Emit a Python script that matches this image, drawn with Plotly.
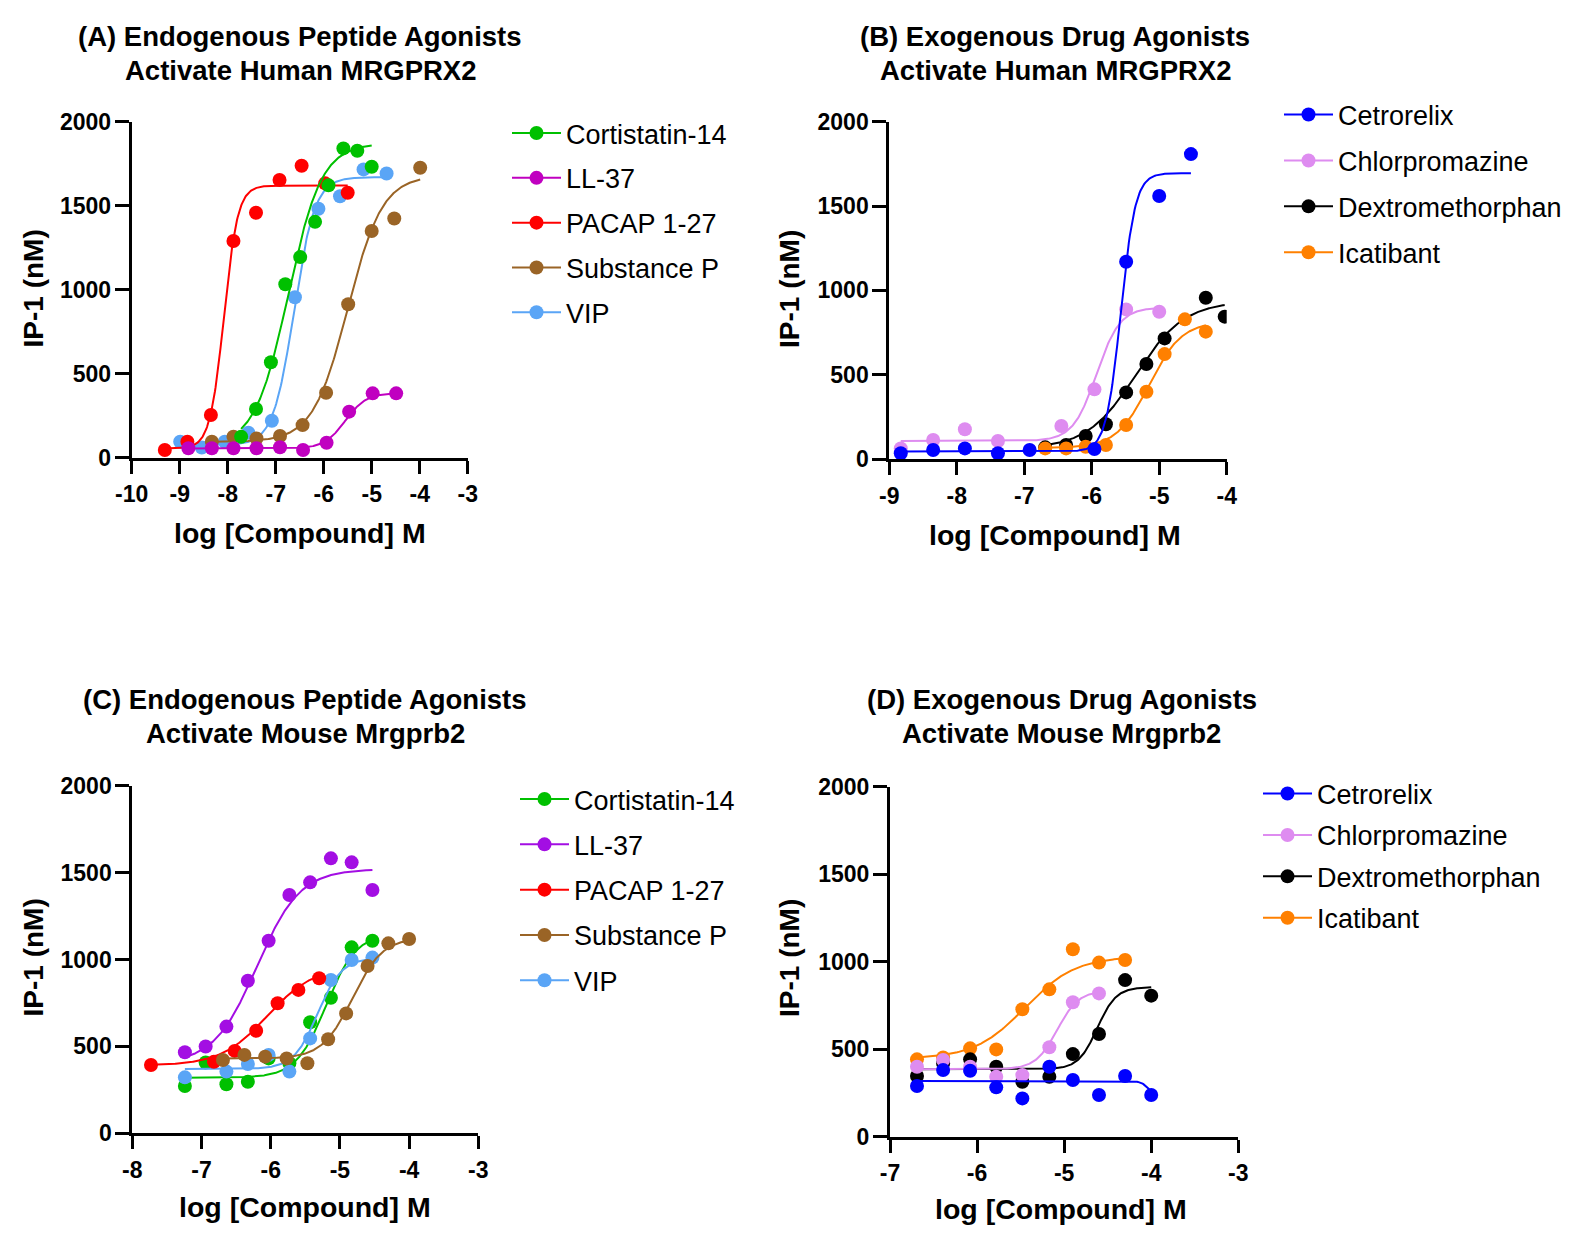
import numpy as np
import plotly.graph_objects as go

FONT = "Liberation Sans, Arial, Helvetica, sans-serif"
W, H = 1572, 1241

# ---------------- data (log M, IP-1 nM) ----------------
# Panel A: human MRGPRX2, endogenous peptides
a_cort_x = [-7.72, -7.41, -7.10, -6.80, -6.49, -6.18, -5.90, -5.59, -5.30, -5.00]
a_cort_y = [125, 290, 568, 1032, 1194, 1404, 1621, 1841, 1827, 1732]
a_ll37_x = [-8.82, -8.33, -7.88, -7.40, -6.91, -6.43, -5.94, -5.47, -4.98, -4.49]
a_ll37_y = [56, 56, 56, 56, 62, 46, 89, 274, 383, 383]
a_pacap_x = [-9.31, -8.84, -8.35, -7.88, -7.41, -6.92, -6.46, -5.97, -5.50]
a_pacap_y = [46, 95, 254, 1290, 1458, 1653, 1738, 1633, 1577]
a_subp_x = [-8.33, -7.88, -7.40, -6.91, -6.44, -5.95, -5.49, -5.00, -4.53, -3.99]
a_subp_y = [95, 125, 115, 129, 194, 387, 913, 1349, 1424, 1726]
a_vip_x = [-8.99, -8.54, -8.06, -7.57, -7.08, -6.60, -6.11, -5.66, -5.17, -4.69]
a_vip_y = [95, 60, 95, 149, 220, 955, 1482, 1556, 1716, 1692]

# Panel B: human MRGPRX2, drugs
b_cet_x = [-8.83, -8.35, -7.88, -7.39, -6.92, -5.96, -5.49, -5.00, -4.53]
b_cet_y = [34, 53, 63, 34, 53, 59, 1170, 1559, 1808]
b_chl_x = [-8.83, -8.35, -7.88, -7.39, -6.45, -5.96, -5.49, -5.00]
b_chl_y = [63, 113, 176, 107, 196, 413, 887, 873]
b_dex_x = [-6.69, -6.38, -6.09, -5.79, -5.49, -5.19, -4.92, -4.31, -4.03]
b_dex_y = [69, 83, 136, 206, 395, 563, 715, 956, 844]
b_ica_x = [-6.69, -6.38, -6.09, -5.79, -5.49, -5.19, -4.92, -4.62, -4.31]
b_ica_y = [63, 63, 73, 83, 202, 399, 622, 828, 755]

# Panel C: mouse Mrgprb2, endogenous peptides
c_cort_x = [-7.24, -6.94, -6.64, -6.33, -6.03, -5.73, -5.43, -5.13, -4.83, -4.53]
c_cort_y = [272, 407, 282, 297, 431, 403, 639, 780, 1070, 1108]
c_ll37_x = [-7.24, -6.94, -6.64, -6.33, -6.03, -5.73, -5.43, -5.13, -4.83, -4.53]
c_ll37_y = [466, 499, 614, 878, 1108, 1371, 1444, 1582, 1559, 1400]
c_pacap_x = [-7.73, -6.82, -6.52, -6.21, -5.90, -5.60, -5.30]
c_pacap_y = [393, 412, 474, 590, 748, 825, 892]
c_subp_x = [-6.69, -6.38, -6.08, -5.77, -5.47, -5.17, -4.91, -4.60, -4.30, -4.00]
c_subp_y = [422, 451, 441, 431, 403, 541, 690, 963, 1093, 1118]
c_vip_x = [-7.24, -6.64, -6.33, -6.03, -5.73, -5.43, -5.13, -4.83, -4.53]
c_vip_y = [322, 355, 399, 451, 355, 546, 882, 997, 1011]

# Panel D: mouse Mrgprb2, drugs
d_cet_x = [-6.69, -6.39, -6.08, -5.78, -5.48, -5.17, -4.90, -4.60, -4.30, -4.00]
d_cet_y = [290, 381, 377, 282, 219, 400, 324, 238, 347, 238]
d_chl_x = [-6.69, -6.39, -6.08, -5.78, -5.48, -5.17, -4.90, -4.60]
d_chl_y = [400, 438, 400, 343, 352, 511, 768, 819]
d_dex_x = [-6.69, -6.39, -6.08, -5.78, -5.48, -5.17, -4.90, -4.60, -4.30, -4.00]
d_dex_y = [347, 419, 442, 400, 314, 343, 472, 587, 895, 806]
d_ica_x = [-6.69, -6.39, -6.08, -5.78, -5.48, -5.17, -4.90, -4.60, -4.30]
d_ica_y = [442, 453, 505, 499, 728, 842, 1071, 995, 1010]

# Fitted 4-parameter logistic curves: [bottom, top, logEC50, hill]
a_cort_fit = [70, 1870, -6.74, 1.25]
a_ll37_fit = [55, 385, -5.55, 2.0]
a_pacap_fit = [55, 1620, -8.08, 3.0]
a_subp_fit = [95, 1680, -5.50, 1.2]
a_vip_fit = [75, 1670, -6.62, 2.0]
b_cet_fit = [45, 1695, -5.57, 4.0]
b_chl_fit = [107, 899, -5.93, 2.5]
b_dex_fit = [60, 935, -5.35, 1.2]
b_ica_fit = [65, 815, -5.15, 1.8]
c_cort_fit = [320, 1150, -5.20, 2.0]
c_ll37_fit = [400, 1520, -6.20, 1.4]
c_pacap_fit = [390, 960, -6.05, 1.3]
c_subp_fit = [430, 1125, -4.82, 2.0]
c_vip_fit = [370, 1010, -5.32, 2.5]
d_cet_fit = [318, 230, -4.03, 10.0]
d_chl_fit = [385, 835, -5.08, 3.5]
d_dex_fit = [385, 855, -4.62, 4.0]
d_ica_fit = [445, 1030, -5.45, 1.5]

y_tickvals = [0, 500, 1000, 1500, 2000]
y_ticktext = ["0", "500", "1000", "1500", "2000"]
xa_tickvals = [-10, -9, -8, -7, -6, -5, -4, -3]
xb_tickvals = [-9, -8, -7, -6, -5, -4]
xc_tickvals = [-8, -7, -6, -5, -4, -3]
xd_tickvals = [-7, -6, -5, -4, -3]

title_lines = [
    ("(A) Endogenous Peptide Agonists", "Activate Human MRGPRX2"),
    ("(B) Exogenous Drug Agonists", "Activate Human MRGPRX2"),
    ("(C) Endogenous Peptide Agonists", "Activate Mouse Mrgprb2"),
    ("(D) Exogenous Drug Agonists", "Activate Mouse Mrgprb2"),
]
x_title = "log [Compound] M"
y_title = "IP-1 (nM)"

# ---------------- styles ----------------
GREEN = "#00c000"
MAGENTA = "#c000c0"
RED = "#ff0000"
BROWN = "#9a6426"
LBLUE = "#5aa5f6"
PURPLE = "#a30ee3"
BLUE = "#0000ff"
LILAC = "#de8cf0"
BLACK = "#000000"
ORANGE = "#ff8000"


def logistic(x, p):
    bottom, top, logec50, hill = p
    return bottom + (top - bottom) / (1.0 + 10.0 ** ((logec50 - x) * hill))


# (name, x, y, fit, color, legend rank) listed in drawing order (last on top)
panels = [
    dict(key="1", legend="legend", series=[
        ("VIP", a_vip_x, a_vip_y, a_vip_fit, LBLUE, 5),
        ("Substance P", a_subp_x, a_subp_y, a_subp_fit, BROWN, 4),
        ("PACAP 1-27", a_pacap_x, a_pacap_y, a_pacap_fit, RED, 3),
        ("Cortistatin-14", a_cort_x, a_cort_y, a_cort_fit, GREEN, 1),
        ("LL-37", a_ll37_x, a_ll37_y, a_ll37_fit, MAGENTA, 2),
    ]),
    dict(key="2", legend="legend2", series=[
        ("Chlorpromazine", b_chl_x, b_chl_y, b_chl_fit, LILAC, 2),
        ("Dextromethorphan", b_dex_x, b_dex_y, b_dex_fit, BLACK, 3),
        ("Icatibant", b_ica_x, b_ica_y, b_ica_fit, ORANGE, 4),
        ("Cetrorelix", b_cet_x, b_cet_y, b_cet_fit, BLUE, 1),
    ]),
    dict(key="3", legend="legend3", series=[
        ("Cortistatin-14", c_cort_x, c_cort_y, c_cort_fit, GREEN, 1),
        ("VIP", c_vip_x, c_vip_y, c_vip_fit, LBLUE, 5),
        ("PACAP 1-27", c_pacap_x, c_pacap_y, c_pacap_fit, RED, 3),
        ("LL-37", c_ll37_x, c_ll37_y, c_ll37_fit, PURPLE, 2),
        ("Substance P", c_subp_x, c_subp_y, c_subp_fit, BROWN, 4),
    ]),
    dict(key="4", legend="legend4", series=[
        ("Icatibant", d_ica_x, d_ica_y, d_ica_fit, ORANGE, 4),
        ("Dextromethorphan", d_dex_x, d_dex_y, d_dex_fit, BLACK, 3),
        ("Chlorpromazine", d_chl_x, d_chl_y, d_chl_fit, LILAC, 2),
        ("Cetrorelix", d_cet_x, d_cet_y, d_cet_fit, BLUE, 1),
    ]),
]

fig = go.Figure()
for pan in panels:
    k = pan["key"]
    xa = "x" if k == "1" else "x" + k
    ya = "y" if k == "1" else "y" + k
    for name, xs, ys, fit, col, rank in pan["series"]:
        grp = pan["legend"] + name
        xc = np.linspace(min(xs), max(xs), 300)
        fig.add_trace(go.Scatter(
            x=xc, y=logistic(xc, fit), mode="lines", xaxis=xa, yaxis=ya,
            line=dict(color=col, width=2), showlegend=False, hoverinfo="skip",
            legendgroup=grp, legend=pan["legend"]))
        fig.add_trace(go.Scatter(
            x=xs, y=ys, mode="markers", xaxis=xa, yaxis=ya,
            marker=dict(color=col, size=14, line=dict(width=0)),
            showlegend=False, name=name, legendgroup=grp, legend=pan["legend"]))
        fig.add_trace(go.Scatter(
            x=[None], y=[None], mode="lines+markers", xaxis=xa, yaxis=ya,
            line=dict(color=col, width=2), marker=dict(color=col, size=14),
            name=name, legendgroup=grp, legendrank=rank, legend=pan["legend"],
            showlegend=True))


def px_x(p):
    return p / W


def px_y(p):
    return 1 - p / H


tickfont = dict(family=FONT, size=23, color="black", weight="bold")


def xaxis(rng, vals, x0, x1, anchor):
    return dict(range=rng, domain=[px_x(x0), px_x(x1)], anchor=anchor,
                tickvals=vals, ticktext=[str(v) for v in vals],
                showline=True, linecolor="black", linewidth=3,
                ticks="outside", ticklen=13, tickwidth=3, tickcolor="black",
                showgrid=False, zeroline=False, tickfont=tickfont,
                ticklabelstandoff=1, fixedrange=True)


def yaxis(y0, y1, anchor):
    return dict(range=[0, 2000], domain=[px_y(y0), px_y(y1)], anchor=anchor,
                tickvals=y_tickvals, ticktext=y_ticktext,
                showline=True, linecolor="black", linewidth=3,
                ticks="outside", ticklen=14, tickwidth=3, tickcolor="black",
                showgrid=False, zeroline=False, tickfont=tickfont,
                ticklabelstandoff=-1, fixedrange=True)


def legend(x, y, gap):
    return dict(x=px_x(x), y=px_y(y), xanchor="left", yanchor="top",
                font=dict(family=FONT, size=27, color="black"),
                itemwidth=49, tracegroupgap=gap, traceorder="grouped",
                bgcolor="rgba(0,0,0,0)", borderwidth=0)


def label(text, x, y, size, angle=0):
    return dict(text="<b>" + text + "</b>", x=px_x(x), y=px_y(y),
                xref="paper", yref="paper", xanchor="center",
                yanchor="middle", showarrow=False, textangle=angle,
                font=dict(family=FONT, size=size, color="black"))


annotations = []
title_pos = [(300, 36.5, 70), (1055, 36.5, 70), (305, 699, 733), (1061.5, 699, 733)]
xt_pos = [(300, 533), (1055, 535), (305, 1207), (1061, 1209)]
yt_pos = [(32.5, 289), (789, 289), (32.5, 958), (789, 958)]
for (l1, l2), (tx, ty1, ty2), (ax, ay), (bx, by) in zip(title_lines, title_pos, xt_pos, yt_pos):
    annotations.append(label(l1, tx, ty1, 27.5))
    annotations.append(label(l2, tx, ty2, 27.5))
    annotations.append(label(x_title, ax, ay, 28.5))
    annotations.append(label(y_title, bx, by, 28, -90))

fig.update_layout(
    width=W, height=H,
    margin=dict(l=0, r=0, t=0, b=0, autoexpand=False),
    paper_bgcolor="white", plot_bgcolor="white",
    showlegend=True,
    xaxis=xaxis([-10, -3], xa_tickvals, 131.7, 467.7, "y"),
    yaxis=yaxis(457.7, 121.7, "x"),
    xaxis2=xaxis([-9, -4], xb_tickvals, 889.3, 1226.7, "y2"),
    yaxis2=yaxis(459, 121.7, "x2"),
    xaxis3=xaxis([-8, -3], xc_tickvals, 132.3, 478.3, "y3"),
    yaxis3=yaxis(1133.3, 785.7, "x3"),
    xaxis4=xaxis([-7, -3], xd_tickvals, 890, 1238.3, "y4"),
    yaxis4=yaxis(1136.7, 786.7, "x4"),
    legend=legend(507, 109, 6.7),
    legend2=legend(1279, 90.5, 7.8),
    legend3=legend(515, 775, 7.2),
    legend4=legend(1258, 769.5, 3.3),
    annotations=annotations,
)

fig.write_html("out.html", config={"displayModeBar": False},
               post_script="document.body.style.margin='0';document.body.style.overflow='hidden';")
